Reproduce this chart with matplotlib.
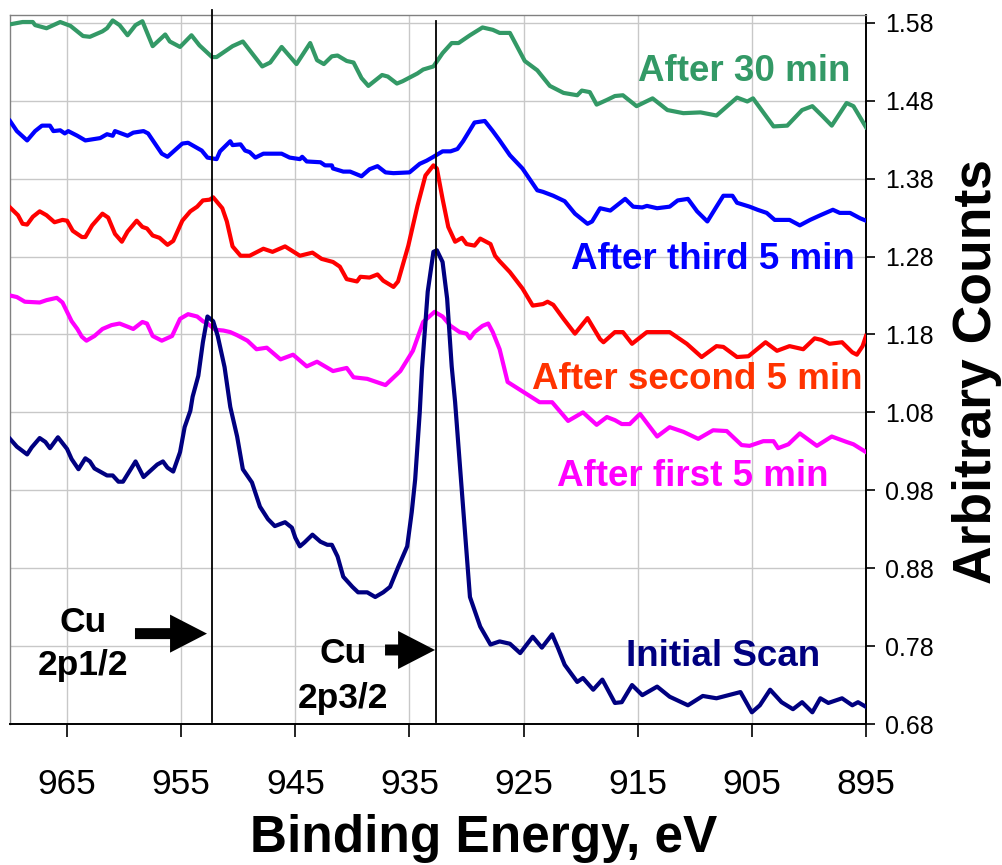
import matplotlib
matplotlib.use("Agg")
import matplotlib.pyplot as plt

plt.rcParams['font.family'] = ['Liberation Sans', 'DejaVu Sans']

# ---------------- data ----------------
green_E = [970.0, 968.9, 968.0, 967.8, 966.8, 965.6, 964.7, 963.6, 963.0, 961.9, 961.5, 961.0, 960.4,
           959.7, 959.0, 958.4, 957.5, 956.4, 956.0, 955.1, 954.1, 953.4, 952.3, 951.9, 950.5, 949.6,
           947.9, 947.2, 946.2, 944.9, 943.7, 943.1, 942.5, 941.8, 941.3, 940.5, 939.9, 939.2, 938.6,
           937.4, 936.9, 936.1, 935.6, 934.3, 933.8, 932.9, 932.1, 931.3, 930.7, 929.7, 928.6, 927.7,
           927.1, 926.2, 924.9, 923.8, 922.7, 921.5, 920.3, 919.9, 919.2, 918.6, 917.7, 917.0, 916.3,
           915.1, 913.7, 912.4, 911.0, 909.5, 908.1, 906.3, 905.4, 904.9, 903.1, 901.9, 900.6, 899.7,
           898.8, 898.0, 896.7, 896.1, 895.0]
green_V = [1.578, 1.581, 1.581, 1.577, 1.573, 1.581, 1.576, 1.563, 1.562, 1.569, 1.573, 1.583, 1.577,
           1.564, 1.577, 1.582, 1.550, 1.565, 1.556, 1.549, 1.564, 1.551, 1.536, 1.536, 1.550, 1.556,
           1.524, 1.529, 1.549, 1.527, 1.554, 1.532, 1.527, 1.537, 1.538, 1.531, 1.529, 1.509, 1.499,
           1.513, 1.511, 1.502, 1.505, 1.515, 1.520, 1.524, 1.541, 1.554, 1.554, 1.564, 1.574, 1.571,
           1.567, 1.567, 1.531, 1.519, 1.499, 1.490, 1.487, 1.493, 1.491, 1.475, 1.481, 1.486, 1.487,
           1.473, 1.483, 1.468, 1.464, 1.465, 1.461, 1.484, 1.479, 1.483, 1.447, 1.448, 1.468, 1.473,
           1.460, 1.448, 1.477, 1.473, 1.446]

blue_E = [970.0, 969.4, 968.5, 967.8, 967.2, 966.5, 966.2, 965.6, 965.2, 964.9, 964.1, 963.4, 962.1,
          961.5, 961.0, 960.8, 959.7, 959.2, 958.3, 957.9, 957.3, 956.7, 956.2, 954.9, 954.4, 953.8,
          953.2, 952.7, 951.9, 951.6, 950.7, 950.5, 949.8, 949.4, 949.0, 948.5, 947.8, 946.2, 945.5,
          944.6, 944.4, 944.0, 942.8, 942.4, 941.8, 941.7, 940.8, 940.2, 939.2, 938.5, 937.8, 937.1,
          936.4, 935.0, 934.1, 933.5, 932.9, 932.1, 931.4, 930.8, 930.3, 929.3, 928.4, 927.7, 927.1,
          926.2, 925.1, 923.8, 923.3, 922.4, 921.4, 920.5, 919.4, 919.0, 918.3, 917.4, 916.1, 915.4,
          914.6, 914.2, 913.3, 912.2, 911.5, 910.6, 909.8, 908.9, 908.1, 907.5, 906.7, 906.3, 905.2,
          904.5, 903.7, 903.0, 901.7, 900.8, 899.9, 899.0, 897.9, 897.3, 896.4, 895.5, 895.0]
blue_V = [1.454, 1.441, 1.429, 1.441, 1.448, 1.448, 1.441, 1.442, 1.438, 1.441, 1.435, 1.429, 1.432,
          1.437, 1.435, 1.441, 1.435, 1.439, 1.441, 1.438, 1.425, 1.412, 1.408, 1.425, 1.426, 1.421,
          1.416, 1.407, 1.405, 1.415, 1.428, 1.423, 1.424, 1.416, 1.414, 1.407, 1.412, 1.412, 1.407,
          1.405, 1.408, 1.402, 1.401, 1.397, 1.397, 1.393, 1.389, 1.389, 1.383, 1.392, 1.396, 1.388,
          1.387, 1.388, 1.399, 1.403, 1.408, 1.415, 1.415, 1.418, 1.428, 1.452, 1.454, 1.441, 1.429,
          1.410, 1.393, 1.365, 1.363, 1.358, 1.351, 1.335, 1.322, 1.325, 1.342, 1.339, 1.354, 1.344,
          1.343, 1.345, 1.342, 1.344, 1.352, 1.354, 1.338, 1.325, 1.344, 1.358, 1.358, 1.349, 1.344,
          1.340, 1.336, 1.327, 1.327, 1.320, 1.327, 1.333, 1.340, 1.336, 1.336, 1.329, 1.326]

red_E = [970.0, 969.3, 968.9, 968.5, 968.0, 967.4, 966.8, 966.1, 965.4, 965.0, 964.5, 963.7, 963.4,
         962.8, 961.9, 961.4, 960.8, 960.2, 959.7, 958.9, 958.4, 958.0, 957.5, 956.9, 956.2, 955.7,
         954.9, 954.2, 953.6, 953.1, 952.5, 952.2, 951.4, 951.0, 950.5, 949.8, 949.0, 947.8, 947.0,
         945.9, 944.6, 943.5, 942.7, 941.7, 941.1, 940.5, 939.6, 939.3, 938.5, 937.8, 937.3, 936.4,
         936.0, 935.1, 934.3, 933.6, 932.9, 932.6, 932.1, 931.6, 931.0, 930.4, 930.0, 929.3, 928.8,
         927.9, 927.5, 927.1, 926.2, 925.1, 924.2, 923.3, 922.9, 922.4, 921.5, 920.5, 919.4, 918.3,
         918.0, 917.0, 916.3, 915.5, 914.2, 913.5, 912.2, 910.7, 909.4, 908.1, 907.5, 906.3, 905.3,
         903.8, 902.8, 901.7, 900.5, 899.5, 898.9, 898.2, 897.1, 896.2, 895.8, 895.3, 895.0]
red_V = [1.343, 1.333, 1.322, 1.321, 1.331, 1.338, 1.333, 1.324, 1.327, 1.326, 1.313, 1.305, 1.305,
         1.320, 1.335, 1.330, 1.309, 1.299, 1.312, 1.326, 1.318, 1.316, 1.307, 1.304, 1.295, 1.300,
         1.326, 1.338, 1.344, 1.352, 1.353, 1.356, 1.342, 1.325, 1.293, 1.281, 1.281, 1.290, 1.286,
         1.293, 1.281, 1.285, 1.277, 1.273, 1.267, 1.251, 1.248, 1.254, 1.253, 1.257, 1.249, 1.241,
         1.248, 1.294, 1.345, 1.384, 1.397, 1.393, 1.354, 1.318, 1.299, 1.304, 1.296, 1.294, 1.303,
         1.296, 1.281, 1.274, 1.260, 1.239, 1.217, 1.219, 1.222, 1.218, 1.200, 1.181, 1.201, 1.174,
         1.170, 1.183, 1.183, 1.168, 1.183, 1.183, 1.183, 1.168, 1.151, 1.165, 1.164, 1.151, 1.152,
         1.170, 1.159, 1.165, 1.161, 1.175, 1.173, 1.168, 1.170, 1.157, 1.154, 1.165, 1.178]

magenta_E = [970.0, 969.4, 968.7, 967.4, 966.8, 965.9, 965.4, 964.6, 964.1, 963.7, 963.3, 962.6, 961.9,
             961.1, 960.4, 959.7, 959.2, 958.4, 958.0, 957.5, 956.7, 955.8, 955.1, 954.4, 953.6, 953.1,
             952.7, 952.0, 951.3, 950.7, 950.1, 949.2, 948.4, 947.5, 946.3, 945.2, 944.0, 943.1, 941.7,
             940.5, 939.9, 938.7, 937.1, 935.8, 934.7, 933.8, 932.8, 932.1, 931.4, 930.6, 930.0, 929.7,
             929.3, 928.6, 928.1, 927.7, 927.1, 926.4, 925.0, 923.6, 922.5, 921.1, 919.8, 918.6, 917.7,
             917.0, 916.4, 915.7, 914.8, 913.3, 912.2, 911.0, 909.7, 908.4, 907.2, 905.9, 905.2, 904.0,
             903.1, 902.7, 901.8, 900.8, 899.3, 898.0, 896.7, 896.1, 895.0]
magenta_V = [1.230, 1.228, 1.222, 1.221, 1.224, 1.227, 1.221, 1.197, 1.187, 1.177, 1.172, 1.178, 1.187,
             1.192, 1.194, 1.190, 1.187, 1.196, 1.194, 1.178, 1.172, 1.178, 1.200, 1.206, 1.203, 1.197,
             1.194, 1.186, 1.185, 1.183, 1.179, 1.172, 1.161, 1.163, 1.148, 1.154, 1.139, 1.145, 1.133,
             1.137, 1.125, 1.123, 1.115, 1.133, 1.159, 1.196, 1.209, 1.203, 1.191, 1.183, 1.181, 1.175,
             1.183, 1.191, 1.194, 1.183, 1.161, 1.119, 1.106, 1.093, 1.093, 1.069, 1.080, 1.064, 1.074,
             1.070, 1.065, 1.065, 1.078, 1.049, 1.061, 1.055, 1.046, 1.057, 1.056, 1.038, 1.037, 1.043,
             1.043, 1.034, 1.039, 1.053, 1.037, 1.049, 1.042, 1.039, 1.029]

navy_E = [970.0, 969.4, 968.5, 968.1, 967.4, 966.9, 966.5, 965.8, 965.0, 964.6, 964.0, 963.4, 963.0,
          962.6, 961.5, 961.0, 960.5, 960.1, 959.0, 958.3, 957.1, 956.6, 956.2, 955.7, 955.1, 954.7,
          954.2, 954.0, 953.5, 953.1, 952.7, 952.2, 951.8, 951.2, 950.7, 950.1, 949.6, 948.8, 948.1,
          947.4, 946.8, 945.9, 945.3, 945.0, 944.6, 944.2, 943.5, 942.8, 942.2, 941.8, 941.3, 940.8,
          940.0, 939.5, 938.7, 938.0, 937.3, 936.7, 936.0, 935.2, 934.8, 934.5, 934.1, 933.9, 933.4,
          932.9, 932.6, 932.1, 931.7, 931.3, 931.0, 930.4, 929.7, 928.8, 927.9, 927.1, 926.2, 925.3,
          924.2, 923.4, 922.5, 922.0, 921.4, 920.3, 919.8, 918.9, 918.1, 917.0, 916.4, 915.5, 914.6,
          913.3, 912.2, 910.6, 909.3, 908.1, 906.0, 905.0, 904.3, 903.4, 902.4, 901.4, 900.6, 899.7,
          899.0, 898.3, 897.1, 896.2, 895.7, 895.0]
navy_V = [1.046, 1.036, 1.026, 1.035, 1.047, 1.042, 1.034, 1.048, 1.033, 1.020, 1.007, 1.021, 1.017,
          1.008, 0.999, 0.999, 0.991, 0.991, 1.017, 0.997, 1.013, 1.017, 1.009, 1.004, 1.029, 1.061,
          1.082, 1.100, 1.127, 1.170, 1.203, 1.197, 1.178, 1.138, 1.087, 1.049, 1.007, 0.990, 0.959,
          0.943, 0.934, 0.939, 0.932, 0.919, 0.908, 0.913, 0.923, 0.914, 0.910, 0.910, 0.895, 0.869,
          0.856, 0.849, 0.849, 0.843, 0.849, 0.856, 0.881, 0.908, 0.952, 0.994, 1.080, 1.136, 1.235,
          1.286, 1.288, 1.273, 1.226, 1.139, 1.093, 0.977, 0.843, 0.805, 0.782, 0.786, 0.783, 0.771,
          0.792, 0.778, 0.795, 0.778, 0.756, 0.734, 0.739, 0.724, 0.737, 0.707, 0.708, 0.730, 0.717,
          0.728, 0.715, 0.704, 0.716, 0.713, 0.721, 0.695, 0.704, 0.724, 0.708, 0.699, 0.708, 0.695,
          0.713, 0.707, 0.713, 0.704, 0.708, 0.702]

series_labels = ["After 30 min", "After third 5 min", "After second 5 min",
                 "After first 5 min", "Initial Scan"]
line_colors = ["#339966", "#0000FF", "#FF0000", "#FF00FF", "#000080"]
label_colors = ["#339966", "#0000FF", "#FF3300", "#FF00FF", "#000080"]
# label anchor (right edge energy, baseline value)
label_E = [896.4, 896.0, 895.3, 898.3, 899.0]
label_V = [1.505, 1.264, 1.110, 0.985, 0.755]

peak_E = [952.3, 932.7]
peak_top = [1.596, 1.582]
peak_bottom = 0.683
peak_names = [("Cu", "2p1/2"), ("Cu", "2p3/2")]
peak_text_E = [963.6, 940.8]
peak_text_V = [(0.798, 0.743), (0.758, 0.700)]
arrow_tail = [(959.05, 0.796), (937.14, 0.775)]
arrow_tip = [(952.74, 0.796), (932.76, 0.775)]

x_ticks = [965, 955, 945, 935, 925, 915, 905, 895]
y_ticks = [0.68, 0.78, 0.88, 0.98, 1.08, 1.18, 1.28, 1.38, 1.48, 1.58]

# ---------------- figure ----------------
W, H = 1003, 865
fig = plt.figure(figsize=(W / 100, H / 100), dpi=100)
ax = fig.add_axes([10 / W, 1 - 724 / H, 856 / W, 709 / H])

ax.set_xlim(970, 895)
ax.set_ylim(0.68, 1.59)

ax.grid(True, color="#c8c8c8", lw=1.0)
ax.set_axisbelow(True)

series = [(green_E, green_V), (blue_E, blue_V), (red_E, red_V),
          (magenta_E, magenta_V), (navy_E, navy_V)]
for (e, v), c in zip(series, line_colors):
    ax.plot(e, v, color=c, lw=3.0, solid_joinstyle="round", zorder=3)

for e, top in zip(peak_E, peak_top):
    ax.plot([e, e], [peak_bottom, top], color="black", lw=1.3, clip_on=False, zorder=4)

for lab, c, e, v in zip(series_labels, label_colors, label_E, label_V):
    ax.text(e, v, lab, color=c, fontsize=26.5, fontweight="bold", ha="right", va="baseline", zorder=5)

for (n1, n2), e, (v1, v2) in zip(peak_names, peak_text_E, peak_text_V):
    ax.text(e, v1, n1, fontsize=25.5, fontweight="bold", ha="center", va="baseline", zorder=5)
    ax.text(e, v2, n2, fontsize=25.5, fontweight="bold", ha="center", va="baseline", zorder=5)

for (te, tv), (he, hv) in zip(arrow_tail, arrow_tip):
    ax.annotate("", xy=(he, hv), xytext=(te, tv),
                arrowprops=dict(arrowstyle="simple,head_length=2.66,head_width=2.74,tail_width=0.79",
                                mutation_scale=10, color="black", shrinkA=0, shrinkB=0, lw=0),
                zorder=5)

ax.set_xticks(x_ticks)
ax.set_xticklabels([str(t) for t in x_ticks])
ax.yaxis.tick_right()
ax.set_yticks(y_ticks)
ax.set_yticklabels([f"{t:.2f}" for t in y_ticks])

ax.tick_params(axis="x", direction="out", length=9, width=1.2, labelsize=25.5, pad=23, colors="black")
ax.tick_params(axis="y", direction="out", length=6.5, width=1.2, labelsize=18, pad=7, colors="black",
               left=False, right=True, labelleft=False, labelright=True)

for s in ["left", "top"]:
    ax.spines[s].set_color("#808080")
    ax.spines[s].set_linewidth(1.0)
for s in ["bottom", "right"]:
    ax.spines[s].set_color("black")
    ax.spines[s].set_linewidth(1.4)

fig.text(484 / W, 1 - 852 / H, "Binding Energy, eV", fontsize=37, fontweight="bold",
         ha="center", va="baseline")
fig.text(977 / W, 1 - 372 / H, "Arbitrary Counts", fontsize=38.5, fontweight="bold",
         rotation=90, ha="center", va="center")

fig.savefig("out.png", dpi=100)
